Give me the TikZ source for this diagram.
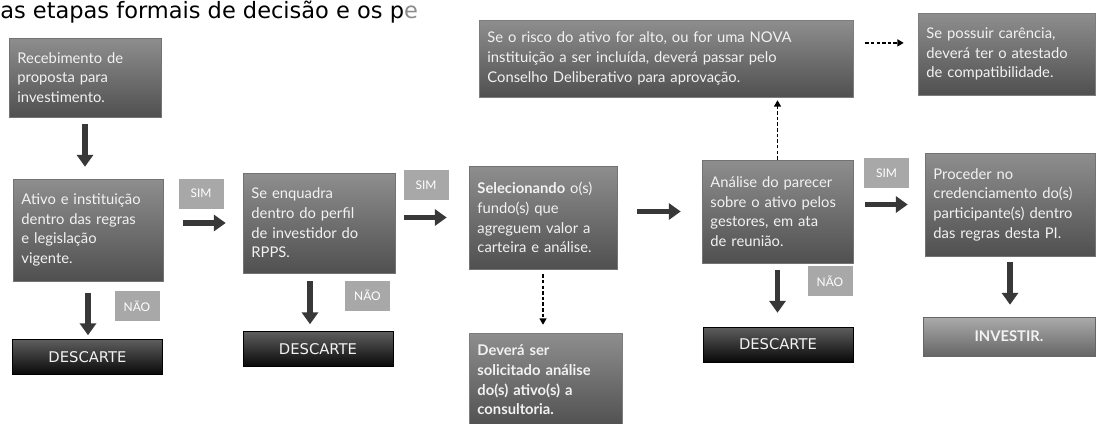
\documentclass[tikz,border=0pt]{standalone}
\usepackage{fontspec}
\setmainfont{Lato}
\newfontfamily\headfont{DejaVu Sans}
\usetikzlibrary{arrows.meta}

\definecolor{boxtop}{HTML}{8E8E8E}
\definecolor{boxbot}{HTML}{505050}
\definecolor{notefill}{HTML}{9C9C9C}
\definecolor{tagfill}{HTML}{A8A8A8}
\definecolor{desctop}{HTML}{5E5E5E}
\definecolor{descbot}{HTML}{080808}
\definecolor{invtop}{HTML}{ABABAB}
\definecolor{invbot}{HTML}{666666}
\definecolor{boxtext}{HTML}{F2F2F2}

\begin{document}
\begin{tikzpicture}[x=0.025cm,y=-0.025cm]

\tikzset{stepbox/.style 2 args = {draw=black!55, top color=boxtop, bottom color=boxbot,
    minimum width=#1*0.025cm, minimum height=#2*0.025cm, text width=#1*0.025cm-12pt,
    inner xsep=6pt, inner ysep=0pt, align=left, text=boxtext,
    font=\fontsize{10.5}{14}\selectfont}}
\tikzset{notebox/.style 2 args = {stepbox={#1}{#2}, fill=notefill, draw=notefill!80!black}}
\tikzset{descbox/.style = {draw=black, top color=desctop, bottom color=descbot, text=boxtext,
    minimum width=150*0.025cm, minimum height=35*0.025cm, inner sep=0pt,
    font=\headfont\fontsize{10.5}{12}\selectfont}}
\tikzset{tagbox/.style = {fill=tagfill, text=white, minimum width=45*0.025cm,
    minimum height=30*0.025cm, inner sep=0pt, font=\fontsize{8.5}{10}\selectfont}}
\tikzset{bigarrow/.style = {draw=black!78, line width=4pt, -{Triangle[width=11.5pt,length=8.5pt]}}}
\tikzset{dasharrow/.style = {draw=black, line width=0.9pt, dash pattern=on 2.5pt off 1.5pt,
    -{Triangle[width=5pt,length=4.5pt]}}}

\useasboundingbox (0,0) rectangle (1096,423);

% title line
\node[anchor=base west, inner sep=0pt, font=\headfont\fontsize{16}{19}\selectfont] (titulo)
  at (0,18.5) {as etapas formais de decisão e os p\textcolor{black!45}{e}};

% boxes
\node[stepbox={152}{79}] (recebe) at (85,77.5)
  {Recebimento de\\proposta para\\investimento.};
\node[stepbox={150}{102}] (ativo) at (88,230)
  {Ativo e instituição\\dentro das regras\\e legislação\\vigente.};
\node[stepbox={152}{100}] (perfil) at (319,223)
  {Se enquadra\\dentro do perfil\\de investidor do\\RPPS.};
\node[stepbox={148}{103}] (fundo) at (543,217.5)
  {\textbf{Selecionando} o(s)\\fundo(s) que\\agreguem valor a\\carteira e análise.};
\node[notebox={153}{94}, font=\bfseries\fontsize{10.5}{14}\selectfont] (consult) at (545.5,380)
  {Deverá ser\\solicitado análise\\do(s) ativo(s) a\\consultoria.};
\node[stepbox={151}{103}] (parecer) at (777.5,211.5)
  {Análise do parecer\\sobre o ativo pelos\\gestores, em ata\\de reunião.};
\node[stepbox={170}{103}] (proceder) at (1010,204.5)
  {Proceder no\\credenciamento do(s)\\participante(s) dentro\\das regras desta PI.};
\node[notebox={374}{77}] (risco) at (666,58.5)
  {Se o risco do ativo for alto, ou for uma NOVA\\instituição a ser incluída, deverá passar pelo\\Conselho Deliberativo para aprovação.};
\node[notebox={177}{82}] (carencia) at (1006.5,54)
  {Se possuir carência,\\deverá ter o atestado\\de compatibilidade.};

% end boxes
\node[descbox] (desc1) at (87.5,357) {DESCARTE};
\node[descbox] (desc2) at (318,349) {DESCARTE};
\node[descbox] (desc3) at (778,344.5) {DESCARTE};
\node[descbox, top color=invtop, bottom color=invbot, draw=black!60, minimum width=172*0.025cm,
  minimum height=39*0.025cm, font=\bfseries\fontsize{10.5}{12}\selectfont] (investir)
  at (1009,336.5) {INVESTIR.};

% SIM / NAO tags
\node[tagbox] (sim1) at (201,193.5) {SIM};
\node[tagbox] (sim2) at (426,185) {SIM};
\node[tagbox] (sim3) at (886.5,173) {SIM};
\node[tagbox] (nao1) at (137,306) {NÃO};
\node[tagbox] (nao2) at (367.5,295.5) {NÃO};
\node[tagbox] (nao3) at (830,281) {NÃO};

% arrows
\coordinate (pbot) at ([xshift=-0.225cm]perfil.south);
\coordinate (rtop) at ([yshift=0.39cm]risco.east);
\draw[bigarrow, shorten <=0.175cm, shorten >=0.3cm] (recebe) -- (recebe |- ativo.north);
\draw[bigarrow, shorten <=0.3cm, shorten >=0.1cm] (ativo) -- (ativo |- desc1.north);
\draw[bigarrow, shorten <=0.5cm, shorten >=0.425cm] (ativo.east |- perfil) -- (perfil);
\draw[bigarrow, shorten <=0.2cm, shorten >=0.175cm] (pbot) -- (pbot |- desc2.north);
\draw[bigarrow, shorten <=0.225cm, shorten >=0.55cm] (perfil.east |- fundo) -- (fundo);
\draw[bigarrow, shorten <=0.5cm, shorten >=0.525cm] (fundo.east |- parecer) -- (parecer);
\draw[bigarrow, shorten <=0.3cm, shorten >=0.425cm] (parecer.east |- proceder) -- (proceder);
\draw[bigarrow, shorten <=0.175cm, shorten >=0.35cm] (parecer) -- (parecer |- desc3.north);
\draw[bigarrow, shorten <=0.15cm, shorten >=0.3cm] (proceder) -- (proceder |- investir.north);
% dashed ones
\draw[dasharrow, shorten <=0.125cm, shorten >=0.2cm] (fundo) -- (fundo |- consult.north);
\draw[dasharrow, shorten >=0.075cm] (parecer.north) -- (parecer.north |- risco.south);
\draw[dasharrow, shorten <=0.3cm, shorten >=0.35cm] (rtop) -- (rtop -| carencia.west);

\end{tikzpicture}
\end{document}
